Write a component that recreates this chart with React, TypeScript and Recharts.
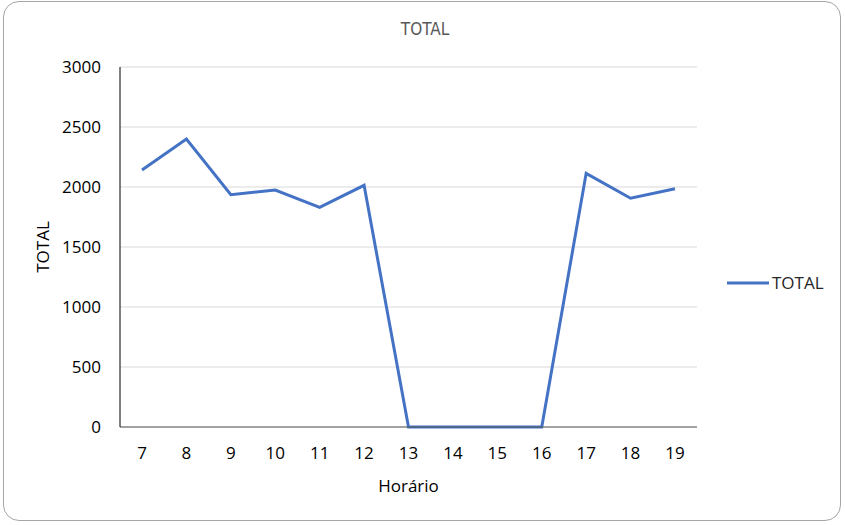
import React from 'react';
import { LineChart, Line, XAxis, YAxis, CartesianGrid, Legend } from 'recharts';

const hours = ['7', '8', '9', '10', '11', '12', '13', '14', '15', '16', '17', '18', '19'];
const totals = [2142, 2400, 1936, 1975, 1831, 2014, 0, 0, 0, 0, 2114, 1906, 1986];
const yTicks = [0, 500, 1000, 1500, 2000, 2500, 3000];

const data = hours.map((h, i) => ({ hora: h, TOTAL: totals[i] }));

const FONT = '"Open Sans", sans-serif';

const LegendContent = () => (
  <svg width={110} height={24}>
    <line x1={2} y1={12} x2={44} y2={12} stroke="#4472C4" strokeWidth={3} />
    <text x={47} y={12} dy="0.35em" fontFamily={FONT} fontSize={17} fill="#262626">
      TOTAL
    </text>
  </svg>
);

const YLabel = () => (
  <text
    x={42}
    y={247}
    transform="rotate(-90, 42, 247)"
    textAnchor="middle"
    dominantBaseline="central"
    fontFamily={FONT}
    fontSize={17}
    fill="#000"
  >
    TOTAL
  </text>
);

export default function App() {
  return (
    <div style={{ position: 'fixed', left: 0, top: 0, width: 845, height: 525, background: '#fff' }}>
      <div
        style={{
          position: 'absolute',
          left: 3,
          top: 1,
          width: 838,
          height: 520,
          border: '1px solid #a6a6a6',
          borderRadius: 16,
          boxSizing: 'border-box',
        }}
      />
      <div
        style={{
          position: 'absolute',
          left: 0,
          top: 18,
          width: 850,
          textAlign: 'center',
          fontFamily: '"DejaVu Sans Condensed", "DejaVu Sans", sans-serif',
          fontSize: 17,
          color: '#595959',
          lineHeight: '22px',
        }}
      >
        TOTAL
      </div>
      <div style={{ position: 'absolute', left: 0, top: 0 }}>
        <LineChart width={845} height={525} data={data} margin={{ top: 67, right: 148, bottom: 0, left: 0 }}>
          <CartesianGrid vertical={false} stroke="#d9d9d9" strokeWidth={1} />
          <XAxis
            dataKey="hora"
            padding={{ left: 22, right: 22 }}
            tickLine={false}
            tickSize={0}
            tickMargin={20}
            stroke="#595959"
            tick={{ fill: '#000', fontFamily: FONT, fontSize: 17 }}
            label={{ value: 'Horário', position: 'insideBottom', offset: 33, fill: '#000', fontFamily: FONT, fontSize: 17 }}
            height={98}
          />
          <YAxis
            width={120}
            domain={[0, 3000]}
            ticks={yTicks}
            tickLine={false}
            tickSize={0}
            tickMargin={19}
            stroke="#000"
            tick={{ fill: '#000', fontFamily: FONT, fontSize: 17 }}
            label={<YLabel />}
          />
          <Legend
            layout="horizontal"
            verticalAlign="middle"
            align="center"
            content={<LegendContent />}
            wrapperStyle={{ left: 725, top: 271, width: 110, height: 24 }}
          />
          <Line
            type="linear"
            dataKey="TOTAL"
            stroke="#4472C4"
            strokeWidth={3}
            dot={false}
            activeDot={false}
            isAnimationActive={false}
          />
        </LineChart>
      </div>
    </div>
  );
}
